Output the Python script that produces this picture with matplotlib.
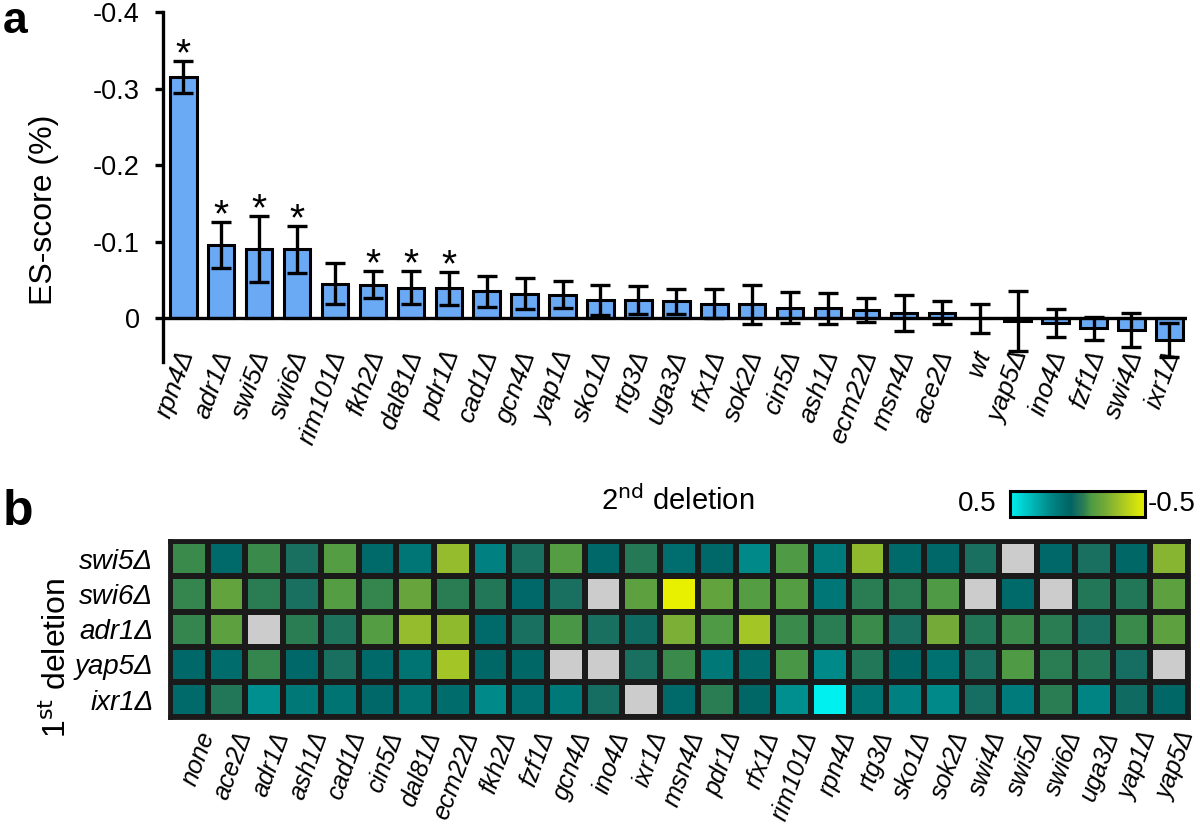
import matplotlib
matplotlib.use("Agg")
import matplotlib.pyplot as plt
import numpy as np
from matplotlib.colors import LinearSegmentedColormap, Normalize

plt.rcParams["font.family"] = ["Liberation Sans", "DejaVu Sans"]

# ---- panel a data ----
bar_genes = ["rpn4", "adr1", "swi5", "swi6", "rim101", "fkh2", "dal81", "pdr1", "cad1",
             "gcn4", "yap1", "sko1", "rtg3", "uga3", "rfx1", "sok2", "cin5", "ash1",
             "ecm22", "msn4", "ace2", "wt", "yap5", "ino4", "fzf1", "swi4", "ixr1"]
es_score = [-0.315, -0.096, -0.091, -0.090, -0.045, -0.044, -0.040, -0.039, -0.035,
            -0.032, -0.031, -0.024, -0.024, -0.022, -0.019, -0.018, -0.014, -0.013,
            -0.011, -0.007, -0.007, 0.0, 0.004, 0.006, 0.013, 0.015, 0.028]
es_err = [0.021, 0.030, 0.043, 0.031, 0.027, 0.018, 0.022, 0.022, 0.020,
          0.020, 0.018, 0.020, 0.018, 0.016, 0.019, 0.026, 0.020, 0.020,
          0.016, 0.023, 0.015, 0.019, 0.039, 0.018, 0.015, 0.022, 0.022]
significant = ["rpn4", "adr1", "swi5", "swi6", "fkh2", "dal81", "pdr1"]

# ---- panel b data ----
first_deletion = ["swi5", "swi6", "adr1", "yap5", "ixr1"]
second_deletion = ["none", "ace2", "adr1", "ash1", "cad1", "cin5", "dal81", "ecm22", "fkh2",
                   "fzf1", "gcn4", "ino4", "ixr1", "msn4", "pdr1", "rfx1", "rim101", "rpn4",
                   "rtg3", "sko1", "sok2", "swi4", "swi5", "swi6", "uga3", "yap1", "yap5"]
nan = np.nan
row_swi5 = [-0.07, 0.08, -0.07, 0.0, -0.12, 0.08, 0.13, -0.28, 0.17, 0.0, -0.12, 0.07, -0.03,
            0.10, 0.07, 0.20, -0.10, 0.15, -0.27, 0.08, 0.07, 0.0, nan, 0.07, 0.0, 0.06, -0.25]
row_swi6 = [-0.06, -0.16, -0.04, 0.0, -0.12, -0.06, -0.17, -0.04, -0.02, 0.07, 0.0, nan, -0.14,
            -0.50, -0.16, -0.12, -0.12, 0.13, -0.04, -0.04, -0.10, nan, 0.08, nan, -0.02, -0.02, -0.14]
row_adr1 = [-0.06, -0.14, nan, -0.04, -0.01, -0.12, -0.28, -0.27, 0.08, 0.0, -0.09, 0.0, 0.02,
            -0.22, -0.10, -0.32, -0.07, -0.04, -0.07, 0.0, -0.20, -0.02, -0.07, -0.04, 0.0, -0.07, -0.14]
row_yap5 = [0.07, 0.09, -0.06, 0.07, 0.0, 0.08, 0.12, -0.32, 0.06, 0.06, nan, nan, 0.0,
            -0.07, 0.14, 0.09, -0.09, 0.20, -0.02, 0.06, 0.11, 0.0, -0.10, -0.04, -0.02, 0.01, nan]
row_ixr1 = [0.08, -0.02, 0.22, 0.14, 0.12, 0.07, 0.12, 0.09, 0.20, 0.10, 0.14, 0.01, nan,
            0.08, -0.04, 0.06, 0.22, 0.50, 0.12, 0.17, 0.20, 0.01, 0.15, -0.04, 0.18, 0.02, 0.06]

# colour scale: -0.5 yellow ... 0.5 cyan
cmap_values = [-0.5, -0.3, -0.2, -0.1, -0.05, 0.0, 0.05, 0.1, 0.2, 0.5]
cmap_colors = ["#e8f000", "#9cc02a", "#72aa38", "#4e9a45", "#2e8050", "#1a7060",
               "#006464", "#006e6e", "#008888", "#00f0f0"]

delta = "\u0394"
bar_color = "#6aa9f4"
fs = 19

fig = plt.figure(figsize=(12, 8.32), dpi=100)

# ================= panel a =================
ax = fig.add_axes([0.136, 0.565, 0.853, 0.4206])
x = np.arange(len(bar_genes))
ax.bar(x, es_score, width=0.7, color=bar_color, edgecolor="black", linewidth=2.2, zorder=2)
ax.errorbar(x, es_score, yerr=es_err, fmt="none", ecolor="black", elinewidth=2.4,
            capsize=7, capthick=2.4, zorder=3)
ax.axhline(0, color="black", linewidth=2.4, zorder=4)
for i, g in enumerate(bar_genes):
    if g in significant:
        ax.annotate("*", (x[i], es_score[i] - es_err[i]), xytext=(0, -9), textcoords="offset points",
                    ha="center", va="bottom", fontsize=28)
    lab = g if g == "wt" else g + delta
    ax.text(x[i] + 0.12, 0.043, lab, rotation=70, rotation_mode="anchor", ha="right", va="center",
            fontsize=fs, style="italic")

ax.set_xlim(-0.53, 26.46)
ax.set_ylim(0.057, -0.4)
ax.set_yticks([-0.4, -0.3, -0.2, -0.1, 0])
ax.set_yticklabels(["-0.4", "-0.3", "-0.2", "-0.1", "0"], fontsize=fs + 0.5)
ax.set_xticks([])
for s in ["top", "right", "bottom"]:
    ax.spines[s].set_visible(False)
ax.spines["left"].set_linewidth(2.4)
ax.tick_params(axis="y", width=2.4, length=6, pad=11)
ax.set_ylabel("ES-score (%)", fontsize=23)
ax.yaxis.set_label_coords(-0.102, 0.434)
fig.text(0.002, 1 - 33 / 832, "a", fontsize=32, fontweight="bold", va="baseline", ha="left")

# ================= panel b =================
cmap = LinearSegmentedColormap.from_list(
    "es", list(zip([(v + 0.5) for v in cmap_values], cmap_colors)))
cmap.set_bad("#cccccc")
norm = Normalize(vmin=-0.5, vmax=0.5)

data = np.ma.masked_invalid(np.array([row_swi5, row_swi6, row_adr1, row_yap5, row_ixr1]))
axh = fig.add_axes([0.1417, 0.138, 0.8483, 0.2115])
axh.set_facecolor("#cccccc")
axh.pcolormesh(data, cmap=cmap, norm=norm, edgecolors="#1a1a1a", linewidth=3.2)
axh.set_xlim(0, len(second_deletion))
axh.set_ylim(len(first_deletion), 0)
for s in axh.spines.values():
    s.set_linewidth(3.5)
    s.set_color("#1a1a1a")
axh.set_yticks(np.arange(len(first_deletion)) + 0.5)
axh.set_yticklabels([g + delta for g in first_deletion], fontsize=fs + 1, style="italic")
axh.set_xticks(np.arange(len(second_deletion)) + 0.7)
axh.set_xticklabels([g if g == "none" else g + delta for g in second_deletion], fontsize=18,
                    style="italic", rotation=70, ha="right", rotation_mode="anchor")
axh.tick_params(length=0, pad=12)
axh.tick_params(axis="x", pad=8)
axh.set_ylabel("1$^{\\mathrm{st}}$ deletion", fontsize=23)
axh.yaxis.set_label_coords(-0.095, 0.335)
axh.text(0.499, 1.23, "2$^{\\mathrm{nd}}$ deletion", transform=axh.transAxes, fontsize=21,
         ha="center", va="center")
fig.text(0.002, 1 - 525 / 832, "b", fontsize=36, fontweight="bold", va="baseline", ha="left")

# colour bar
axc = fig.add_axes([0.8417, 1 - 517 / 832, 0.1125, 26 / 832])
grad = np.linspace(0.5, -0.5, 256).reshape(1, -1)
axc.imshow(grad, cmap=cmap, norm=norm, aspect="auto")
axc.set_xticks([])
axc.set_yticks([])
for s in axc.spines.values():
    s.set_linewidth(2.2)
axc.text(-0.1, 0.5, "0.5", transform=axc.transAxes, ha="right", va="center", fontsize=20)
axc.text(1.02, 0.5, "-0.5", transform=axc.transAxes, ha="left", va="center", fontsize=20)

fig.savefig("out.png", dpi=100)
